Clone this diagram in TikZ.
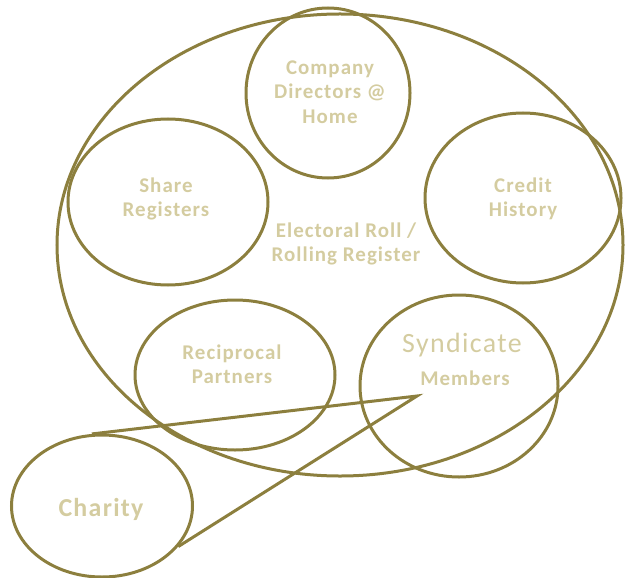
\documentclass[tikz,border=0pt]{standalone}
\usepackage{fontspec}
\setmainfont{Carlito}
\newfontfamily\spacedfont[LetterSpace=5]{Carlito}
\usetikzlibrary{shapes.geometric}

\definecolor{ringcol}{RGB}{140,127,62}
\definecolor{labelcol}{RGB}{212,204,160}

\begin{document}
\begin{tikzpicture}[x=1bp,y=-1bp,
	ring/.style={draw=ringcol,line width=3bp,ellipse,inner sep=0pt},
	lbl/.style={text=labelcol,font=\spacedfont\bfseries\fontsize{21}{24.5}\selectfont,align=center}]
	\useasboundingbox (0,0) rectangle (627,578);
	
	% outer ring and the five inner rings
	\node[ring,minimum width=566bp,minimum height=462bp] (roll) at (340,245) {};
	\node[ring,minimum width=164bp,minimum height=170bp] (directors) at (328,93) {};
	\node[ring,minimum width=200bp,minimum height=166bp] (shares) at (168,202) {};
	\node[ring,minimum width=196bp,minimum height=170bp] (credit) at (523,198) {};
	\node[ring,minimum width=200bp,minimum height=150bp] (partners) at (235,375) {};
	\node[ring,minimum width=198bp,minimum height=182bp] (syndicate) at (459,386) {};
	\node[ring,minimum width=181bp,minimum height=142bp] (charity) at (102,506) {};
	
	% labels
	\node[lbl] at (330,92) {Company\\Directors @\\Home};
	\node[lbl] at (166,199) {Share\\Registers};
	\node[lbl] at (346,244) {Electoral Roll /\\Rolling Register};
	\node[lbl] at (232,364) {Reciprocal\\Partners};
	\node[lbl] at (523,199) {Credit\\History};
	\node[text=labelcol,font=\spacedfont\fontsize{28}{32}\selectfont] at (462,345) {Syndicate};
	\node[lbl] at (465,378) {Members};
	\node[text=labelcol,font=\spacedfont\bfseries\fontsize{26}{30}\selectfont] at (101,509) {Charity};
	
	% callout from charity into syndicate
	\coordinate (tip) at (417,396);
	\draw[ringcol,line width=3bp,line join=miter] (charity.98) -- (tip) -- (charity.-28);
\end{tikzpicture}
\end{document}
